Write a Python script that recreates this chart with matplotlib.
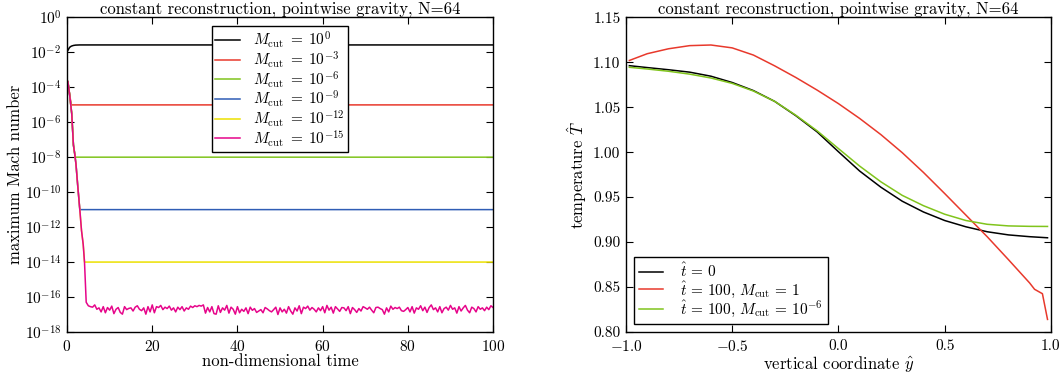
import numpy as np
import matplotlib
matplotlib.use("Agg")
import matplotlib.pyplot as plt

plt.rcParams.update({
    "font.family": "serif",
    "font.serif": ["cmr10", "DejaVu Serif"],
    "mathtext.fontset": "cm",
    "axes.formatter.use_mathtext": True,
    "font.size": 11,
    "axes.linewidth": 1.0,
    "xtick.direction": "in",
    "ytick.direction": "in",
    "xtick.top": True,
    "ytick.right": True,
    "xtick.major.size": 5,
    "ytick.major.size": 5,
    "xtick.major.pad": 5,
    "ytick.major.pad": 4,
})

# ---------------- left panel data (log10 of max Mach number) ----------------
black_t = [0.0, 0.3, 0.6, 1.0, 1.5, 2.0, 3.0, 100.0]
black_logM = [-1.97, -1.85, -1.72, -1.65, -1.61, -1.59, -1.58, -1.58]

red_t = [0.2, 0.6, 1.0, 100.0]
red_logM = [-3.68, -4.4, -5.01, -5.01]

green_t = [0.2, 0.6, 1.1, 1.5, 1.8, 1.95, 100.0]
green_logM = [-3.68, -4.4, -5.5, -7.3, -7.8, -8.0, -8.0]

blue_t = [0.2, 0.6, 1.1, 1.5, 1.8, 2.1, 2.5, 3.0, 100.0]
blue_logM = [-3.68, -4.4, -5.5, -7.3, -7.8, -8.4, -9.6, -11.0, -11.0]

yellow_t = [0.2, 0.6, 1.1, 1.5, 1.8, 2.1, 2.5, 3.0, 3.4, 3.8, 4.1, 100.0]
yellow_logM = [-3.68, -4.4, -5.5, -7.3, -7.8, -8.4, -9.6, -11.0, -12.2, -13.0, -14.0, -14.0]

pink_drop_t = [0.2, 0.6, 1.1, 1.5, 1.8, 2.1, 2.5, 3.0, 3.4, 3.8, 4.1, 4.5]
pink_drop_logM = [-3.68, -4.4, -5.5, -7.3, -7.8, -8.4, -9.6, -11.0, -12.2, -13.0, -14.0, -16.3]

pink_noise_t = list(np.arange(5.0, 100.01, 0.5))
pink_noise_logM = [
    -16.50, -16.55, -16.58, -16.45, -16.70, -16.62, -16.85, -16.55, -16.90, -16.60,
    -16.75, -16.52, -16.95, -16.70, -16.60, -16.88, -16.98, -16.55, -16.72, -16.65,
    -16.62, -16.80, -16.58, -16.50, -16.70, -16.78, -16.62, -16.98, -16.55, -16.85,
    -16.45, -16.90, -16.55, -16.60, -16.48, -16.72, -16.58, -16.66, -16.52, -16.75,
    -16.62, -16.85, -16.58, -16.72, -16.55, -16.80, -16.62, -16.70, -16.52, -16.60,
    -16.50, -16.55, -16.48, -16.52, -16.45, -16.92, -16.60, -16.85, -16.55, -16.95,
    -16.98, -16.50, -16.88, -16.62, -16.75, -16.48, -16.92, -16.58, -16.70, -16.98,
    -16.55, -16.90, -16.70, -16.82, -16.62, -16.95, -16.58, -16.76, -16.66, -16.88,
    -16.80, -16.72, -16.90, -16.60, -16.68, -16.78, -16.85, -16.72, -16.58, -17.00,
    -16.62, -16.85, -16.70, -16.92, -16.55, -16.80, -16.98, -16.62, -16.80, -16.50,
    -16.95, -16.58, -16.66, -16.52, -16.75, -16.60, -16.70, -16.85, -16.62, -16.78,
    -16.55, -16.90, -16.48, -16.75, -16.58, -16.92, -16.55, -16.68, -16.82, -16.60,
    -16.62, -16.78, -16.55, -16.95, -16.60, -16.72, -16.88, -16.66, -16.80, -16.55,
    -16.62, -16.70, -16.58, -16.75, -16.90, -16.60, -16.58, -16.66, -16.72, -16.98,
    -16.62, -16.85, -16.52, -16.70, -16.60, -16.66, -16.58, -16.78, -16.82, -16.72,
    -16.60, -16.85, -16.55, -16.92, -16.62, -16.70, -16.50, -16.78, -16.58, -16.88,
    -16.60, -16.45, -16.72, -16.62, -16.85, -16.55, -16.90, -16.66, -16.58, -16.75,
    -16.48, -16.70, -16.62, -16.92, -16.55, -16.80, -16.62, -16.48, -16.75, -16.90,
    -16.58, -16.66, -16.85, -16.55, -16.70, -16.62, -16.78, -16.58, -16.72, -16.50,
    -16.60,
]

left_labels = [r"$M_{\mathrm{cut}}\;=\;10^{0}$", r"$M_{\mathrm{cut}}\;=\;10^{-3}$",
               r"$M_{\mathrm{cut}}\;=\;10^{-6}$", r"$M_{\mathrm{cut}}\;=\;10^{-9}$",
               r"$M_{\mathrm{cut}}\;=\;10^{-12}$", r"$M_{\mathrm{cut}}\;=\;10^{-15}$"]
left_colors = ["#000000", "#e8392c", "#80c41c", "#2f5db5", "#ece000", "#e6058a"]

# ---------------- right panel data (temperature profiles) ----------------
y_grid = [-0.984, -0.9, -0.8, -0.7, -0.6, -0.5, -0.4, -0.3, -0.2, -0.1, 0.0,
          0.1, 0.2, 0.3, 0.4, 0.5, 0.6, 0.7, 0.8, 0.9, 0.984]
T_initial = [1.0962, 1.0941, 1.0917, 1.0890, 1.0845, 1.0775, 1.0685, 1.0565, 1.0405,
             1.0225, 1.0005, 0.9790, 0.9610, 0.9455, 0.9335, 0.9240, 0.9170, 0.9115,
             0.9080, 0.9060, 0.9048]
T_cut1e6 = [1.0944, 1.0925, 1.0900, 1.0868, 1.0825, 1.0765, 1.0680, 1.0565, 1.0410,
            1.0237, 1.0040, 0.9845, 0.9670, 0.9520, 0.9405, 0.9310, 0.9240, 0.9198,
            0.9180, 0.9175, 0.9174]
y_red = [-0.984, -0.9, -0.8, -0.7, -0.6, -0.5, -0.4, -0.3, -0.2, -0.1, 0.0,
         0.1, 0.2, 0.3, 0.4, 0.5, 0.6, 0.7, 0.8, 0.9, 0.923, 0.96, 0.984]
T_cut1 = [1.1020, 1.1095, 1.1150, 1.1185, 1.1192, 1.1160, 1.1080, 1.0960, 1.0830,
          1.0690, 1.0540, 1.0375, 1.0195, 0.9995, 0.9775, 0.9540, 0.9300, 0.9060,
          0.8805, 0.8545, 0.8475, 0.8426, 0.8140]
right_labels = [r"$\hat{t}\,=\,0$", r"$\hat{t}\,=\,100,\,M_{\mathrm{cut}}\,=\,1$",
                r"$\hat{t}\,=\,100,\,M_{\mathrm{cut}}\,=\,10^{-6}$"]
right_colors = ["#000000", "#e8392c", "#80c41c"]

title = "constant reconstruction, pointwise gravity, N=64"

fig = plt.figure(figsize=(10.64, 3.78), dpi=100)
ax1 = fig.add_axes([0.063, 0.1217, 0.4004, 0.8325])
ax2 = fig.add_axes([0.5883, 0.1217, 0.3994, 0.8325])

left_series = [(black_t, black_logM), (red_t, red_logM), (green_t, green_logM),
               (blue_t, blue_logM), (yellow_t, yellow_logM),
               (pink_drop_t + pink_noise_t, pink_drop_logM + pink_noise_logM)]
for (t, lm), lab, c in zip(left_series, left_labels, left_colors):
    ax1.plot(t, 10.0 ** np.array(lm), color=c, lw=1.1, label=lab)
ax1.set_yscale("log")
ax1.set_xlim(0, 100)
ax1.set_ylim(1e-18, 1e0)
ax1.set_yticks([10.0 ** (-k) for k in range(0, 19, 2)])
ax1.yaxis.set_minor_locator(matplotlib.ticker.NullLocator())
ax1.set_xticks([0, 20, 40, 60, 80, 100])
ax1.set_xlabel("non-dimensional time", fontsize=12, labelpad=0)
ax1.set_ylabel("maximum Mach number", fontsize=12, labelpad=1)
ax1.set_title(title, fontsize=12, pad=2)
leg1 = ax1.legend(loc="upper center", fancybox=False, framealpha=1, edgecolor="black",
                  fontsize=11, handlelength=1.6, handletextpad=0.9, borderpad=0.2,
                  labelspacing=-0.07, borderaxespad=0.6)
leg1.get_frame().set_linewidth(1.0)

ax2.plot(y_grid, T_initial, color=right_colors[0], lw=1.1, label=right_labels[0])
ax2.plot(y_red, T_cut1, color=right_colors[1], lw=1.1, label=right_labels[1])
ax2.plot(y_grid, T_cut1e6, color=right_colors[2], lw=1.1, label=right_labels[2])
ax2.set_xlim(-1, 1)
ax2.set_ylim(0.80, 1.15)
ax2.set_xticks([-1.0, -0.5, 0.0, 0.5, 1.0])
ax2.set_yticks([0.80, 0.85, 0.90, 0.95, 1.00, 1.05, 1.10, 1.15])
ax2.yaxis.set_major_formatter(matplotlib.ticker.FormatStrFormatter("%.2f"))
ax2.xaxis.set_major_formatter(matplotlib.ticker.FuncFormatter(
    lambda v, p: ("$-$" if v < 0 else "") + "%.1f" % abs(v) if abs(v) > 1e-9 else "0.0"))
ax2.set_xlabel(r"vertical coordinate $\hat{y}$", fontsize=12, labelpad=0)
ax2.set_ylabel(r"temperature $\hat{T}$", fontsize=12, labelpad=3)
ax2.set_title(title, fontsize=12, pad=2)
leg2 = ax2.legend(loc="lower left", fancybox=False, framealpha=1, edgecolor="black",
                  fontsize=11, handlelength=1.6, handletextpad=1.1, borderpad=0.3,
                  labelspacing=-0.07, borderaxespad=0.55)
leg2.get_frame().set_linewidth(1.0)

fig.savefig("out.png", dpi=100)
